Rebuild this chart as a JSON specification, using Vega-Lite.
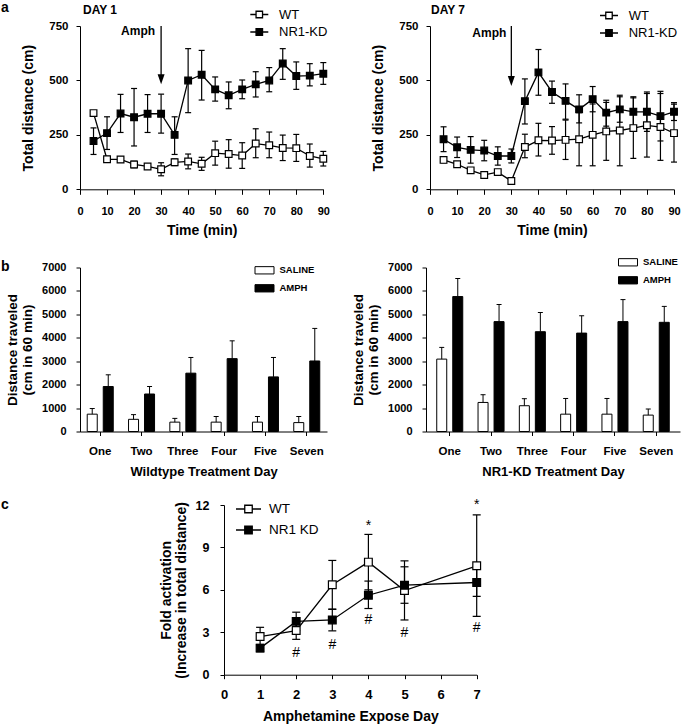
{
"$schema": "https://vega.github.io/schema/vega-lite/v6.json",
"background": "white",
"padding": {"left": 1, "top": 0, "right": 2, "bottom": 0},
"datasets": {
"a1": [
{"t":5,"group":"WT","mean":350,"lo":340,"hi":360},
{"t":10,"group":"WT","mean":138,"lo":125,"hi":151},
{"t":15,"group":"WT","mean":137,"lo":124,"hi":150},
{"t":20,"group":"WT","mean":114,"lo":99,"hi":129},
{"t":25,"group":"WT","mean":105,"lo":96,"hi":114},
{"t":30,"group":"WT","mean":92,"lo":62,"hi":122},
{"t":35,"group":"WT","mean":124,"lo":109,"hi":139},
{"t":40,"group":"WT","mean":128,"lo":94,"hi":162},
{"t":45,"group":"WT","mean":117,"lo":87,"hi":147},
{"t":50,"group":"WT","mean":166,"lo":111,"hi":221},
{"t":55,"group":"WT","mean":162,"lo":97,"hi":228},
{"t":60,"group":"WT","mean":155,"lo":96,"hi":214},
{"t":65,"group":"WT","mean":210,"lo":145,"hi":278},
{"t":70,"group":"WT","mean":202,"lo":145,"hi":263},
{"t":75,"group":"WT","mean":190,"lo":132,"hi":249},
{"t":80,"group":"WT","mean":189,"lo":128,"hi":252},
{"t":85,"group":"WT","mean":153,"lo":102,"hi":208},
{"t":90,"group":"WT","mean":140,"lo":107,"hi":174},
{"t":5,"group":"NR1-KD","mean":222,"lo":160,"hi":282},
{"t":10,"group":"NR1-KD","mean":258,"lo":183,"hi":333},
{"t":15,"group":"NR1-KD","mean":348,"lo":261,"hi":436},
{"t":20,"group":"NR1-KD","mean":331,"lo":199,"hi":463},
{"t":25,"group":"NR1-KD","mean":347,"lo":261,"hi":435},
{"t":30,"group":"NR1-KD","mean":347,"lo":258,"hi":437},
{"t":35,"group":"NR1-KD","mean":250,"lo":160,"hi":333},
{"t":40,"group":"NR1-KD","mean":500,"lo":352,"hi":646},
{"t":45,"group":"NR1-KD","mean":526,"lo":410,"hi":638},
{"t":50,"group":"NR1-KD","mean":459,"lo":405,"hi":516},
{"t":55,"group":"NR1-KD","mean":432,"lo":370,"hi":493},
{"t":60,"group":"NR1-KD","mean":459,"lo":416,"hi":502},
{"t":65,"group":"NR1-KD","mean":482,"lo":424,"hi":540},
{"t":70,"group":"NR1-KD","mean":500,"lo":448,"hi":559},
{"t":75,"group":"NR1-KD","mean":578,"lo":505,"hi":646},
{"t":80,"group":"NR1-KD","mean":520,"lo":459,"hi":585},
{"t":85,"group":"NR1-KD","mean":522,"lo":475,"hi":577},
{"t":90,"group":"NR1-KD","mean":531,"lo":482,"hi":582}
],
"a7": [
{"t":5,"group":"WT","mean":135,"lo":122,"hi":148},
{"t":10,"group":"WT","mean":115,"lo":105,"hi":125},
{"t":15,"group":"WT","mean":87,"lo":78,"hi":96},
{"t":20,"group":"WT","mean":66,"lo":57,"hi":75},
{"t":25,"group":"WT","mean":79,"lo":70,"hi":88},
{"t":30,"group":"WT","mean":38,"lo":28,"hi":48},
{"t":35,"group":"WT","mean":194,"lo":145,"hi":253},
{"t":40,"group":"WT","mean":225,"lo":153,"hi":303},
{"t":45,"group":"WT","mean":224,"lo":161,"hi":288},
{"t":50,"group":"WT","mean":227,"lo":137,"hi":318},
{"t":55,"group":"WT","mean":230,"lo":108,"hi":352},
{"t":60,"group":"WT","mean":250,"lo":108,"hi":392},
{"t":65,"group":"WT","mean":266,"lo":133,"hi":399},
{"t":70,"group":"WT","mean":270,"lo":108,"hi":432},
{"t":75,"group":"WT","mean":281,"lo":142,"hi":420},
{"t":80,"group":"WT","mean":294,"lo":148,"hi":440},
{"t":85,"group":"WT","mean":286,"lo":133,"hi":440},
{"t":90,"group":"WT","mean":258,"lo":125,"hi":391},
{"t":5,"group":"NR1-KD","mean":230,"lo":173,"hi":287},
{"t":10,"group":"NR1-KD","mean":193,"lo":146,"hi":240},
{"t":15,"group":"NR1-KD","mean":181,"lo":120,"hi":242},
{"t":20,"group":"NR1-KD","mean":178,"lo":131,"hi":225},
{"t":25,"group":"NR1-KD","mean":153,"lo":111,"hi":195},
{"t":30,"group":"NR1-KD","mean":153,"lo":121,"hi":185},
{"t":35,"group":"NR1-KD","mean":405,"lo":300,"hi":507},
{"t":40,"group":"NR1-KD","mean":537,"lo":432,"hi":642},
{"t":45,"group":"NR1-KD","mean":447,"lo":395,"hi":497},
{"t":50,"group":"NR1-KD","mean":406,"lo":322,"hi":484},
{"t":55,"group":"NR1-KD","mean":367,"lo":305,"hi":434},
{"t":60,"group":"NR1-KD","mean":414,"lo":356,"hi":472},
{"t":65,"group":"NR1-KD","mean":352,"lo":290,"hi":409},
{"t":70,"group":"NR1-KD","mean":367,"lo":308,"hi":425},
{"t":75,"group":"NR1-KD","mean":356,"lo":288,"hi":425},
{"t":80,"group":"NR1-KD","mean":356,"lo":266,"hi":447},
{"t":85,"group":"NR1-KD","mean":336,"lo":222,"hi":450},
{"t":90,"group":"NR1-KD","mean":356,"lo":316,"hi":398}
],
"arrows": [
{"panel":"d1","t":30,"ytop":750,"ybot":505,"ylab":727,"label":"Amph"},
{"panel":"d7","t":30,"ytop":750,"ybot":497,"ylab":719,"label":"Amph"}
],
"bwt": [
{"day":"One","treat":"SALINE","mean":740,"hi":980},
{"day":"One","treat":"AMPH","mean":1920,"hi":2420},
{"day":"Two","treat":"SALINE","mean":520,"hi":720},
{"day":"Two","treat":"AMPH","mean":1600,"hi":1920},
{"day":"Three","treat":"SALINE","mean":400,"hi":560},
{"day":"Three","treat":"AMPH","mean":2490,"hi":3160},
{"day":"Four","treat":"SALINE","mean":400,"hi":640},
{"day":"Four","treat":"AMPH","mean":3110,"hi":3870},
{"day":"Five","treat":"SALINE","mean":400,"hi":640},
{"day":"Five","treat":"AMPH","mean":2330,"hi":3160},
{"day":"Seven","treat":"SALINE","mean":380,"hi":640},
{"day":"Seven","treat":"AMPH","mean":3010,"hi":4400}
],
"bkd": [
{"day":"One","treat":"SALINE","mean":3090,"hi":3590},
{"day":"One","treat":"AMPH","mean":5760,"hi":6530},
{"day":"Two","treat":"SALINE","mean":1240,"hi":1570},
{"day":"Two","treat":"AMPH","mean":4690,"hi":5420},
{"day":"Three","treat":"SALINE","mean":1100,"hi":1400},
{"day":"Three","treat":"AMPH","mean":4260,"hi":5080},
{"day":"Four","treat":"SALINE","mean":740,"hi":1410},
{"day":"Four","treat":"AMPH","mean":4200,"hi":4940},
{"day":"Five","treat":"SALINE","mean":740,"hi":1410},
{"day":"Five","treat":"AMPH","mean":4690,"hi":5630},
{"day":"Seven","treat":"SALINE","mean":700,"hi":960},
{"day":"Seven","treat":"AMPH","mean":4660,"hi":5340}
],
"cdat": [
{"day":1,"group":"WT","mean":2.7,"lo":2.05,"hi":3.35},
{"day":2,"group":"WT","mean":3.12,"lo":2.5,"hi":3.75},
{"day":3,"group":"WT","mean":6.36,"lo":4.62,"hi":8.08},
{"day":4,"group":"WT","mean":7.96,"lo":6.0,"hi":9.92},
{"day":5,"group":"WT","mean":5.95,"lo":3.87,"hi":8.05},
{"day":7,"group":"WT","mean":7.7,"lo":4.12,"hi":11.3},
{"day":1,"group":"NR1 KD","mean":1.88,"lo":1.62,"hi":2.14},
{"day":2,"group":"NR1 KD","mean":3.77,"lo":3.12,"hi":4.42},
{"day":3,"group":"NR1 KD","mean":3.87,"lo":3.1,"hi":4.64},
{"day":4,"group":"NR1 KD","mean":5.62,"lo":4.68,"hi":6.62},
{"day":5,"group":"NR1 KD","mean":6.33,"lo":5.05,"hi":7.63},
{"day":7,"group":"NR1 KD","mean":6.52,"lo":5.54,"hi":7.5}
],
"cann": [
{"day":4,"y":10.5,"label":"*"},
{"day":7,"y":12.0,"label":"*"},
{"day":2,"y":1.53,"label":"#"},
{"day":3,"y":2.12,"label":"#"},
{"day":4,"y":3.89,"label":"#"},
{"day":5,"y":2.95,"label":"#"},
{"day":7,"y":3.3,"label":"#"}
]
},
"config": {
"font": "Liberation Sans",
"view": {"stroke": null},
"axis": {"grid": false, "domainColor": "black", "tickColor": "black", "labelColor": "black", "titleColor": "black", "labelFontWeight": "bold", "titleFontWeight": "bold", "domainWidth": 1, "tickWidth": 1, "labelFlush": false, "labelOverlap": false, "labelFont": "Liberation Sans", "titleFont": "Liberation Sans"},
"legend": {"labelColor": "black", "labelFont": "Liberation Sans", "padding": 0},
"title": {"color": "black", "font": "Liberation Sans", "fontWeight": "bold"}
},
"spacing": 18.5,
"resolve": {"scale": {"fill": "independent"}, "legend": {"fill": "independent"}},
"vconcat": [
{
"title": {"text": "a", "anchor": "start", "frame": "group", "offset": -10.5, "dx": -79, "fontSize": 14},
"spacing": 106,
"bounds": "flush",
"resolve": {"scale": {"fill": "independent"}, "legend": {"fill": "independent"}},
"hconcat": [
{
"width": 243.3, "height": 163.3,
"title": {"text": "DAY 1", "anchor": "start", "frame": "group", "offset": -12.5, "dx": 3, "fontSize": 12},
"encoding": {"x": {"field": "t", "type": "quantitative", "scale": {"domain": [0, 90], "nice": false}, "axis": {"values": [0,10,20,30,40,50,60,70,80,90], "labelFontSize": 11, "labelPadding": 11, "tickSize": 5, "titleFontSize": 14, "titlePadding": 7}, "title": "Time (min)"}},
"layer": [
{"data": {"name": "a1"}, "mark": {"type": "rule", "color": "black", "strokeWidth": 1.2},
 "encoding": {"y": {"field": "lo", "type": "quantitative", "scale": {"domain": [0, 750], "nice": false}, "axis": {"values": [0,250,500,750], "labelFontSize": 11.5, "labelPadding": 8, "tickSize": 4, "titleFontSize": 14, "titlePadding": 13}, "title": "Total distance (cm)"}, "y2": {"field": "hi"}}},
{"data": {"name": "a1"}, "mark": {"type": "tick", "orient": "horizontal", "size": 6, "thickness": 1.2, "color": "black", "opacity": 1},
 "encoding": {"y": {"field": "lo", "type": "quantitative", "title": "Total distance (cm)"}}},
{"data": {"name": "a1"}, "mark": {"type": "tick", "orient": "horizontal", "size": 6, "thickness": 1.2, "color": "black", "opacity": 1},
 "encoding": {"y": {"field": "hi", "type": "quantitative", "title": "Total distance (cm)"}}},
{"data": {"name": "a1"}, "mark": {"type": "line", "color": "black", "strokeWidth": 1.3},
 "encoding": {"y": {"field": "mean", "type": "quantitative", "title": "Total distance (cm)"}, "detail": {"field": "group"}}},
{"data": {"name": "a1"}, "mark": {"type": "point", "shape": "square", "filled": true, "size": 45, "stroke": "black", "strokeWidth": 1.2, "opacity": 1},
 "encoding": {"y": {"field": "mean", "type": "quantitative", "title": "Total distance (cm)"},
  "fill": {"field": "group", "type": "nominal", "scale": {"domain": ["WT", "NR1-KD"], "range": ["white", "black"]},
   "legend": {"title": null, "orient": "none", "legendX": 169.3, "legendY": -21.5, "symbolType": "M-1,0H-0.36M0.36,0H1M-0.36,-0.36H0.36V0.36H-0.36Z", "symbolSize": 324, "symbolStrokeColor": "black", "symbolStrokeWidth": 1.3, "labelFontSize": 13, "labelFontWeight": "normal", "labelOffset": 9.7, "rowPadding": 0.5}}}},
{"data": {"name": "arrows"}, "transform": [{"filter": "datum.panel == 'd1'"}], "mark": {"type": "rule", "color": "black", "strokeWidth": 1.3},
 "encoding": {"y": {"field": "ytop", "type": "quantitative", "title": "Total distance (cm)"}, "y2": {"field": "ybot"}}},
{"data": {"name": "arrows"}, "transform": [{"filter": "datum.panel == 'd1'"}], "mark": {"type": "point", "shape": "M-0.7,-1L0.7,-1L0,1Z", "size": 100, "filled": true, "color": "black", "opacity": 1},
 "encoding": {"y": {"field": "ybot", "type": "quantitative", "title": "Total distance (cm)"}}},
{"data": {"name": "arrows"}, "transform": [{"filter": "datum.panel == 'd1'"}], "mark": {"type": "text", "align": "right", "baseline": "middle", "dx": -6, "fontSize": 12, "fontWeight": "bold", "color": "black"},
 "encoding": {"y": {"field": "ylab", "type": "quantitative", "title": "Total distance (cm)"}, "text": {"field": "label"}}}
]
},
{
"width": 244, "height": 163.3,
"title": {"text": "DAY 7", "anchor": "start", "frame": "group", "offset": -11.5, "dx": 1, "fontSize": 12},
"encoding": {"x": {"field": "t", "type": "quantitative", "scale": {"domain": [0, 90], "nice": false}, "axis": {"values": [0,10,20,30,40,50,60,70,80,90], "labelFontSize": 11, "labelPadding": 11, "tickSize": 5, "titleFontSize": 14, "titlePadding": 7}, "title": "Time (min)"}},
"layer": [
{"data": {"name": "a7"}, "mark": {"type": "rule", "color": "black", "strokeWidth": 1.2},
 "encoding": {"y": {"field": "lo", "type": "quantitative", "scale": {"domain": [0, 750], "nice": false}, "axis": {"values": [0,250,500,750], "labelFontSize": 11.5, "labelPadding": 8, "tickSize": 4, "titleFontSize": 14, "titlePadding": 13}, "title": "Total distance (cm)"}, "y2": {"field": "hi"}}},
{"data": {"name": "a7"}, "mark": {"type": "tick", "orient": "horizontal", "size": 6, "thickness": 1.2, "color": "black", "opacity": 1},
 "encoding": {"y": {"field": "lo", "type": "quantitative", "title": "Total distance (cm)"}}},
{"data": {"name": "a7"}, "mark": {"type": "tick", "orient": "horizontal", "size": 6, "thickness": 1.2, "color": "black", "opacity": 1},
 "encoding": {"y": {"field": "hi", "type": "quantitative", "title": "Total distance (cm)"}}},
{"data": {"name": "a7"}, "mark": {"type": "line", "color": "black", "strokeWidth": 1.3},
 "encoding": {"y": {"field": "mean", "type": "quantitative", "title": "Total distance (cm)"}, "detail": {"field": "group"}}},
{"data": {"name": "a7"}, "mark": {"type": "point", "shape": "square", "filled": true, "size": 45, "stroke": "black", "strokeWidth": 1.2, "opacity": 1},
 "encoding": {"y": {"field": "mean", "type": "quantitative", "title": "Total distance (cm)"},
  "fill": {"field": "group", "type": "nominal", "scale": {"domain": ["WT", "NR1-KD"], "range": ["white", "black"]},
   "legend": {"title": null, "orient": "none", "legendX": 169, "legendY": -20.5, "symbolType": "M-1,0H-0.36M0.36,0H1M-0.36,-0.36H0.36V0.36H-0.36Z", "symbolSize": 324, "symbolStrokeColor": "black", "symbolStrokeWidth": 1.3, "labelFontSize": 13, "labelFontWeight": "normal", "labelOffset": 9.7, "rowPadding": 0.5}}}},
{"data": {"name": "arrows"}, "transform": [{"filter": "datum.panel == 'd7'"}], "mark": {"type": "rule", "color": "black", "strokeWidth": 1.3},
 "encoding": {"y": {"field": "ytop", "type": "quantitative", "title": "Total distance (cm)"}, "y2": {"field": "ybot"}}},
{"data": {"name": "arrows"}, "transform": [{"filter": "datum.panel == 'd7'"}], "mark": {"type": "point", "shape": "M-0.7,-1L0.7,-1L0,1Z", "size": 100, "filled": true, "color": "black", "opacity": 1},
 "encoding": {"y": {"field": "ybot", "type": "quantitative", "title": "Total distance (cm)"}}},
{"data": {"name": "arrows"}, "transform": [{"filter": "datum.panel == 'd7'"}], "mark": {"type": "text", "align": "right", "baseline": "middle", "dx": -5, "fontSize": 12, "fontWeight": "bold", "color": "black"},
 "encoding": {"y": {"field": "ylab", "type": "quantitative", "title": "Total distance (cm)"}, "text": {"field": "label"}}}
]
}
]
},
{
"title": {"text": "b", "anchor": "start", "frame": "group", "offset": -16.9, "dx": -79, "fontSize": 14},
"spacing": 99,
"bounds": "flush",
"resolve": {"scale": {"fill": "independent"}, "legend": {"fill": "independent"}},
"hconcat": [
{
"width": 247, "height": 164,
"data": {"name": "bwt"},
"encoding": {
 "x": {"field": "day", "type": "nominal", "sort": ["One","Two","Three","Four","Five","Seven"], "scale": {"paddingInner": 0.37, "paddingOuter": 0.175}, "axis": {"labelAngle": 0, "labelFontSize": 11.5, "labelPadding": 9.5, "tickSize": 4, "titleFontSize": 13, "titlePadding": 8.5}, "title": "Wildtype Treatment Day"},
 "xOffset": {"field": "treat", "type": "nominal", "sort": ["SALINE", "AMPH"], "scale": {"paddingInner": 0.375}}
},
"layer": [
{"mark": {"type": "bar", "stroke": "black", "strokeWidth": 1},
 "encoding": {"y": {"field": "mean", "type": "quantitative", "scale": {"domain": [0, 7000], "nice": false}, "axis": {"values": [0,1000,2000,3000,4000,5000,6000,7000], "format": "d", "labelOverlap": false, "labelFontSize": 11, "labelPadding": 10, "tickSize": 4, "titleFontSize": 13.5, "titlePadding": 7.5, "titleLineHeight": 15}, "title": ["Distance traveled", "(cm in 60 min)"]},
  "fill": {"field": "treat", "type": "nominal", "scale": {"domain": ["SALINE", "AMPH"], "range": ["white", "black"]},
   "legend": {"title": null, "orient": "none", "legendX": 179, "legendY": -2.7, "symbolType": "M-1.9,-0.73H1.9V0.73H-1.9Z", "symbolSize": 100, "symbolStrokeColor": "black", "symbolStrokeWidth": 1, "labelFontSize": 9.5, "labelFontWeight": "bold", "labelOffset": 9.5, "rowPadding": 5}}}},
{"mark": {"type": "rule", "color": "black", "strokeWidth": 1},
 "encoding": {"y": {"field": "mean", "type": "quantitative", "scale": {"domain": [0, 7000], "nice": false}, "axis": {"values": [0,1000,2000,3000,4000,5000,6000,7000], "format": "d", "labelOverlap": false, "labelFontSize": 11, "labelPadding": 10, "tickSize": 4, "titleFontSize": 13.5, "titlePadding": 7.5, "titleLineHeight": 15}, "title": ["Distance traveled", "(cm in 60 min)"]}, "y2": {"field": "hi"}}},
{"mark": {"type": "tick", "orient": "horizontal", "size": 5, "thickness": 1, "color": "black", "opacity": 1},
 "encoding": {"y": {"field": "hi", "type": "quantitative", "scale": {"domain": [0, 7000], "nice": false}, "axis": {"values": [0,1000,2000,3000,4000,5000,6000,7000], "format": "d", "labelOverlap": false, "labelFontSize": 11, "labelPadding": 10, "tickSize": 4, "titleFontSize": 13.5, "titlePadding": 7.5, "titleLineHeight": 15}, "title": ["Distance traveled", "(cm in 60 min)"]}}}
]
},
{
"width": 254, "height": 164,
"data": {"name": "bkd"},
"encoding": {
 "x": {"field": "day", "type": "nominal", "sort": ["One","Two","Three","Four","Five","Seven"], "scale": {"paddingInner": 0.37, "paddingOuter": 0.26}, "axis": {"labelAngle": 0, "labelFontSize": 11.5, "labelPadding": 9.5, "tickSize": 4, "titleFontSize": 13, "titlePadding": 8.5}, "title": "NR1-KD Treatment Day"},
 "xOffset": {"field": "treat", "type": "nominal", "sort": ["SALINE", "AMPH"], "scale": {"paddingInner": 0.375}}
},
"layer": [
{"mark": {"type": "bar", "stroke": "black", "strokeWidth": 1},
 "encoding": {"y": {"field": "mean", "type": "quantitative", "scale": {"domain": [0, 7000], "nice": false}, "axis": {"values": [0,1000,2000,3000,4000,5000,6000,7000], "format": "d", "labelOverlap": false, "labelFontSize": 11, "labelPadding": 10, "tickSize": 4, "titleFontSize": 13.5, "titlePadding": 7.5, "titleLineHeight": 15}, "title": ["Distance traveled", "(cm in 60 min)"]},
  "fill": {"field": "treat", "type": "nominal", "scale": {"domain": ["SALINE", "AMPH"], "range": ["white", "black"]},
   "legend": {"title": null, "orient": "none", "legendX": 196.5, "legendY": -10.7, "symbolType": "M-1.9,-0.73H1.9V0.73H-1.9Z", "symbolSize": 100, "symbolStrokeColor": "black", "symbolStrokeWidth": 1, "labelFontSize": 9.5, "labelFontWeight": "bold", "labelOffset": 9.5, "rowPadding": 5}}}},
{"mark": {"type": "rule", "color": "black", "strokeWidth": 1},
 "encoding": {"y": {"field": "mean", "type": "quantitative", "scale": {"domain": [0, 7000], "nice": false}, "axis": {"values": [0,1000,2000,3000,4000,5000,6000,7000], "format": "d", "labelOverlap": false, "labelFontSize": 11, "labelPadding": 10, "tickSize": 4, "titleFontSize": 13.5, "titlePadding": 7.5, "titleLineHeight": 15}, "title": ["Distance traveled", "(cm in 60 min)"]}, "y2": {"field": "hi"}}},
{"mark": {"type": "tick", "orient": "horizontal", "size": 5, "thickness": 1, "color": "black", "opacity": 1},
 "encoding": {"y": {"field": "hi", "type": "quantitative", "scale": {"domain": [0, 7000], "nice": false}, "axis": {"values": [0,1000,2000,3000,4000,5000,6000,7000], "format": "d", "labelOverlap": false, "labelFontSize": 11, "labelPadding": 10, "tickSize": 4, "titleFontSize": 13.5, "titlePadding": 7.5, "titleLineHeight": 15}, "title": ["Distance traveled", "(cm in 60 min)"]}}}
]
}
]
},
{
"title": {"text": "c", "anchor": "start", "frame": "group", "offset": -13.7, "dx": -79, "fontSize": 14},
"spacing": 143,
"bounds": "flush",
"resolve": {"scale": {"fill": "independent"}, "legend": {"fill": "independent"}},
"hconcat": [
{"width": 1, "height": 169.7, "data": {"values": []}, "mark": "point"},
{
"width": 252.7, "height": 169.7,
"encoding": {"x": {"field": "day", "type": "quantitative", "scale": {"domain": [0, 7], "nice": false}, "axis": {"values": [0,1,2,3,4,5,6,7], "labelFontSize": 13, "labelPadding": 10, "tickSize": 4, "titleFontSize": 14, "titlePadding": 8.2}, "title": "Amphetamine Expose Day"}},
"layer": [
{"data": {"name": "cdat"}, "mark": {"type": "rule", "color": "black", "strokeWidth": 1.2},
 "encoding": {"y": {"field": "lo", "type": "quantitative", "scale": {"domain": [0, 12], "nice": false}, "axis": {"values": [0,3,6,9,12], "labelFontSize": 12.5, "labelPadding": 11, "tickSize": 4, "titleFontSize": 14, "titlePadding": 7, "titleLineHeight": 14.7}, "title": ["Fold activation", "(Increase in total distance)"]}, "y2": {"field": "hi"}}},
{"data": {"name": "cdat"}, "mark": {"type": "tick", "orient": "horizontal", "size": 8, "thickness": 1.2, "color": "black", "opacity": 1},
 "encoding": {"y": {"field": "lo", "type": "quantitative", "title": ["Fold activation", "(Increase in total distance)"]}}},
{"data": {"name": "cdat"}, "mark": {"type": "tick", "orient": "horizontal", "size": 8, "thickness": 1.2, "color": "black", "opacity": 1},
 "encoding": {"y": {"field": "hi", "type": "quantitative", "title": ["Fold activation", "(Increase in total distance)"]}}},
{"data": {"name": "cdat"}, "mark": {"type": "line", "color": "black", "strokeWidth": 1.3},
 "encoding": {"y": {"field": "mean", "type": "quantitative", "title": ["Fold activation", "(Increase in total distance)"]}, "detail": {"field": "group"}}},
{"data": {"name": "cdat"}, "mark": {"type": "point", "shape": "square", "filled": true, "size": 60, "stroke": "black", "strokeWidth": 1.2, "opacity": 1},
 "encoding": {"y": {"field": "mean", "type": "quantitative", "title": ["Fold activation", "(Increase in total distance)"]},
  "fill": {"field": "group", "type": "nominal", "scale": {"domain": ["WT", "NR1 KD"], "range": ["white", "black"]},
   "legend": {"title": null, "orient": "none", "legendX": 16, "legendY": -4.5, "symbolType": "M-1.667,0H-0.5M0.5,0H1.667M-0.5,-0.5H0.5V0.5H-0.5Z", "symbolSize": 225, "symbolStrokeColor": "black", "symbolStrokeWidth": 1.3, "labelFontSize": 13.5, "labelFontWeight": "normal", "labelOffset": 12, "rowPadding": 6}}}},
{"data": {"name": "cann"}, "mark": {"type": "text", "align": "center", "baseline": "middle", "fontSize": 14, "fontWeight": "normal", "color": "black"},
 "encoding": {"y": {"field": "y", "type": "quantitative", "title": ["Fold activation", "(Increase in total distance)"]}, "text": {"field": "label"}}}
]
}
]
}
]
}
